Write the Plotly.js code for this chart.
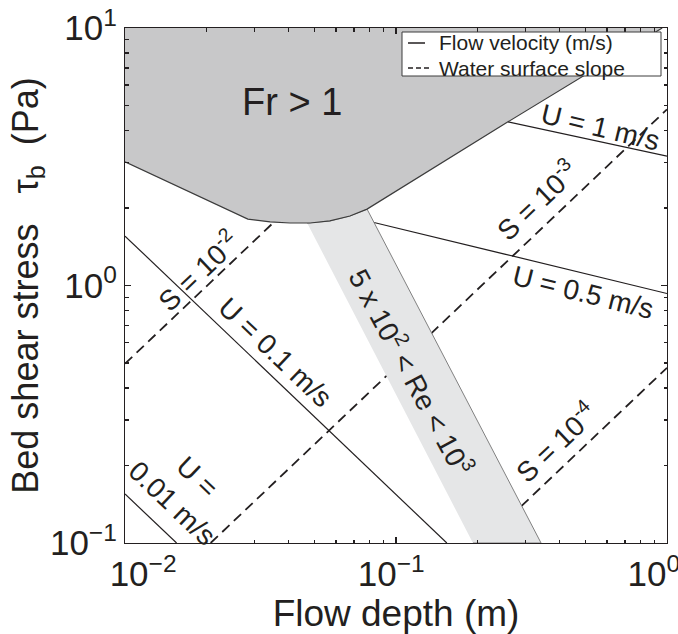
<!DOCTYPE html>
<html>
<head>
<meta charset="utf-8">
<script src="https://cdn.plot.ly/plotly-3.0.1.min.js"></script>
<style>html,body{margin:0;padding:0;background:#fff}#chart{width:678px;height:634px}</style>
</head>
<body>
<div id="chart"></div>
<script>
// ---- values: flow depth h (m), bed shear stress tau_b (Pa) ----
// Froude number = 1 boundary (region above it is Fr > 1)
const frBoundaryDepth  = [0.01, 0.0284, 0.0343, 0.0406, 0.0482, 0.057, 0.0676, 0.0782, 0.259, 0.96];
const frBoundaryStress = [3.02, 1.81, 1.765, 1.749, 1.749, 1.781, 1.862, 1.98, 4.32, 10];

// 5x10^2 < Re < 10^3 band outline
const reBandDepth  = [0.047, 0.057, 0.0676, 0.0782, 0.343, 0.1923];
const reBandStress = [1.749, 1.781, 1.862, 1.98, 0.1, 0.1];

// lines of constant flow velocity
const velocityNames  = ['U = 0.01 m/s', 'U = 0.1 m/s', 'U = 0.5 m/s', 'U = 1 m/s'];
const velocityDepth  = [[0.01, 0.0155], [0.01, 0.154], [0.0822, 1], [0.259, 1]];
const velocityStress = [[0.155, 0.1], [1.556, 0.1], [1.76, 0.931], [4.32, 3.18]];

// lines of constant water surface slope
const slopeNames  = ['S = 10^-2', 'S = 10^-3', 'S = 10^-4'];
const slopeDepth  = [[0.01, 0.036], [0.0207, 1], [0.29, 1]];
const slopeStress = [[0.497, 1.79], [0.1, 4.83], [0.139, 0.479]];

// tick labels
const xTickVals = [0.01, 0.1, 1];
const xTickText = ['10<sup>\u22122</sup>', '10<sup>\u22121</sup>', '10<sup>0</sup>'];
const yTickVals = [0.1, 1, 10];
const yTickText = ['10<sup>\u22121</sup>', '10<sup>0</sup>', '10<sup>1</sup>'];

// ---- drawing ----
const INK = '#231f20';
const FONT = 'Liberation Sans, Arial, Helvetica, sans-serif';
const DASH = '10px,6px';
const NB = '\u00a0', THIN = '\u2009';

function minorTicks(decades) {
  const out = [];
  decades.forEach(d => { for (let k = 2; k <= 9; k++) out.push(d * k); });
  return out;
}

// MATLAB-like placement of the end labels (first pushed right, last pulled left)
const xTickTextPlaced = xTickText.map((t, i) =>
  i === 0 ? NB + NB + NB + THIN + t : (i === xTickText.length - 1 ? t + NB + NB + THIN : t + NB));

const traces = [];
velocityNames.forEach((name, i) => {
  traces.push({type: 'scatter', mode: 'lines', name: name, x: velocityDepth[i], y: velocityStress[i],
    line: {color: INK, width: 1.2}, hoverinfo: 'name'});
});
slopeNames.forEach((name, i) => {
  traces.push({type: 'scatter', mode: 'lines', name: name, x: slopeDepth[i], y: slopeStress[i],
    line: {color: INK, width: 1.8, dash: DASH}, hoverinfo: 'name'});
});
traces.push({type: 'scatter', mode: 'lines', name: 'Re band', x: reBandDepth, y: reBandStress,
  fill: 'toself', fillcolor: '#e5e6e7', line: {color: '#808080', width: 1}, hoverinfo: 'name'});
traces.push({type: 'scatter', mode: 'lines', name: 'Fr > 1', x: frBoundaryDepth.concat([0.01]),
  y: frBoundaryStress.concat([10]), fill: 'toself', fillcolor: '#c8c8c9', line: {width: 0}, hoverinfo: 'name'});
traces.push({type: 'scatter', mode: 'lines', name: 'Fr = 1', x: frBoundaryDepth, y: frBoundaryStress,
  line: {color: '#3c3c3c', width: 1.2}, hoverinfo: 'name'});

const lab = (text, x, y, angle, size) => ({text: text, x: x, y: y, xref: 'x', yref: 'y', showarrow: false,
  textangle: angle, font: {family: FONT, size: size || 28, color: INK}, xanchor: 'center', yanchor: 'middle'});

const annotations = [
  lab('Fr &gt; 1', -1.384, 0.713, 0, 38),
  lab('S = 10<sup>-2</sup>', -1.731, 0.060, -43.5),
  lab('U = 0.1 m/s', -1.446, -0.262, 43.5),
  lab('U =<br>0.01 m/s', -1.782, -0.794, 43.5),
  lab('5 x 10<sup>2</sup> &lt; Re &lt; 10<sup>3</sup>', -0.941, -0.336, 62),
  lab('S = 10<sup>-3</sup>', -0.483, 0.332, -43.5),
  lab('S = 10<sup>-4</sup>', -0.413, -0.608, -43.5),
  lab('U = 1 m/s', -0.244, 0.612, 13.5),
  lab('U = 0.5 m/s', -0.310, -0.029, 14),
  // legend text
  {text: 'Flow velocity (m/s)', xref: 'paper', yref: 'paper', x: 0.575, y: 0.971, xanchor: 'left', yanchor: 'middle',
   showarrow: false, font: {family: FONT, size: 21, color: INK}},
  {text: 'Water surface slope', xref: 'paper', yref: 'paper', x: 0.575, y: 0.922, xanchor: 'left', yanchor: 'middle',
   showarrow: false, font: {family: FONT, size: 21, color: INK}}
];

const px = v => (v - 125) / 542;
const py = v => 1 - (v - 28) / 515;
const shapes = [
  {type: 'rect', xref: 'paper', yref: 'paper', x0: px(402), x1: px(661), y0: py(76), y1: py(32),
   fillcolor: '#ffffff', line: {color: '#3c3c3c', width: 1}},
  {type: 'line', xref: 'paper', yref: 'paper', x0: px(408), x1: px(425), y0: py(43), y1: py(43),
   line: {color: INK, width: 1.5}},
  {type: 'line', xref: 'paper', yref: 'paper', x0: px(408), x1: px(432), y0: py(68), y1: py(68),
   line: {color: INK, width: 1.5, dash: '5px,3px'}}
];

const axisCommon = {
  type: 'log', tickmode: 'array', ticks: 'inside', ticklen: 6, tickwidth: 1.3, tickcolor: INK,
  showline: true, linecolor: INK, linewidth: 1.2, mirror: 'ticks', showgrid: false, zeroline: false,
  tickfont: {family: FONT, size: 35, color: INK}, automargin: false, ticklabeloverflow: 'allow'
};

const layout = {
  width: 678, height: 634,
  margin: {l: 125, r: 11, t: 28, b: 91, pad: 0},
  paper_bgcolor: '#ffffff', plot_bgcolor: '#ffffff',
  showlegend: false,
  font: {family: FONT, color: INK},
  xaxis: Object.assign({}, axisCommon, {
    range: [-2, 0], tickvals: xTickVals, ticktext: xTickTextPlaced,
    minor: {tickvals: minorTicks([0.01, 0.1]), ticks: 'inside', ticklen: 3.5, tickwidth: 1.3, tickcolor: INK, showgrid: false},
    title: {text: 'Flow depth (m)' + NB + NB, font: {family: FONT, size: 37, color: INK}, standoff: 2}
  }),
  yaxis: Object.assign({}, axisCommon, {
    range: [-1, 1], tickvals: yTickVals, ticktext: yTickText,
    minor: {tickvals: minorTicks([0.1, 1]), ticks: 'inside', ticklen: 3.5, tickwidth: 1.3, tickcolor: INK, showgrid: false},
    title: {text: 'Bed shear stress' + NB + NB + NB + '\u03c4<sub>b</sub>' + NB + NB + '(Pa)', font: {family: FONT, size: 36, color: INK}, standoff: 0}
  }),
  annotations: annotations,
  shapes: shapes
};

Plotly.newPlot('chart', traces, layout, {displayModeBar: false, staticPlot: true});
</script>
</body>
</html>
